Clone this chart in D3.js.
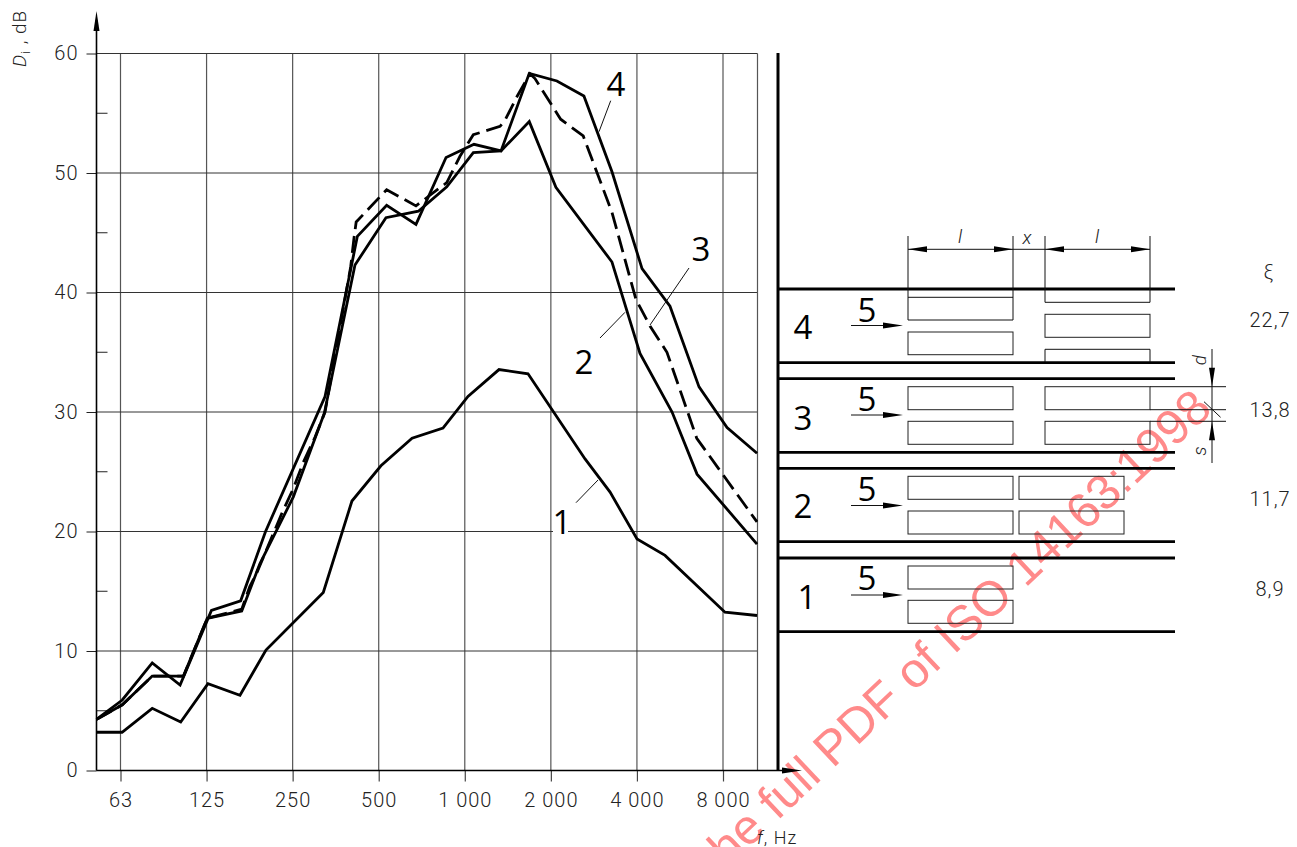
<!DOCTYPE html>
<html>
<head>
<meta charset="utf-8">
<script src="https://cdn.jsdelivr.net/npm/d3@7"></script>
<style>
  html, body { margin: 0; padding: 0; background: #fff; }
  svg { display: block; }
  .num { font-family: Roboto, sans-serif; font-weight: 300; font-size: 20px; fill: #222; letter-spacing: 1px; }
  .big { font-family: "Open Sans", sans-serif; font-weight: 500; font-size: 33px; fill: #000; }
  .ital { font-family: Roboto, sans-serif; font-style: italic; font-weight: 300; font-size: 19px; fill: #222; }
</style>
</head>
<body>
<div class="map"></div>
<script>
// frequency (Hz) and level difference (dB)
var curve1F = [51.5,63.3,80.7,101.5,126.4,163.6,201.7,320,403,509,654,839,1026,1317,1664,2634,3222,4003,5015,8128,10520];
var curve1D = [3.2,3.2,5.2,4.06,7.26,6.3,10.08,14.9,22.55,25.5,27.8,28.66,31.3,33.55,33.2,26.07,23.3,19.37,18,13.25,12.97];

var curve2F = [51.6,63.4,80.7,103.8,125.7,165.9,192,251.4,322.7,413,530,688,865,1071,1339,1681,2083,3272,4100,5308,6490,10520];
var curve2D = [4.28,5.5,7.9,7.9,12.74,13.35,17.3,22.9,29.9,42.3,46.26,46.8,48.85,51.7,51.85,54.3,48.8,42.55,34.9,30,24.8,18.95];

var curve3F = [51.6,63.4,80.7,103.8,125.7,166,177,187,229,251.4,272.5,299.5,324.5,399,410,417,533,675,865,962,1071,1328,1382,1523,1690,1760,2164,2596,3272,3971,4444,5094,6476,10520];
var curve3D = [4.28,5.5,7.9,7.9,12.74,13.5,15.4,16.5,21.5,23.6,25.8,27.9,30,42.16,44.6,45.9,48.6,47.25,49.2,51.4,53.2,53.9,54.4,56.4,58.3,57.9,54.5,53.1,46.7,39.4,37.2,35,27.8,20.8];

var curve4F = [51.5,63.4,80.7,101,130,164.5,201,324.5,421,533,675,860,1077,1339,1681,2100,2610,3272,4168,5220,6596,8265,10520];
var curve4D = [4.28,5.9,9,7.15,13.4,14.2,20,31.3,44.7,47.3,45.7,51.3,52.4,51.85,58.34,57.7,56.45,50.1,42,38.85,32.1,28.7,26.55];

var freqTicks = [62.5,125,250,500,1000,2000,4000,8000];
var freqLabels = ["63","125","250","500","1 000","2 000","4 000","8 000"];
var majorTicks = [0,10,20,30,40,50,60];
var minorTicks = [5,15,25,35,45,55];
var panelNames = ["4","3","2","1"];
var xiValues = ["22,7","13,8","11,7","8,9"];

var w = 1297, h = 847;

var x = d3.scaleLog().domain([62.5,8000]).range([120.5,723]);
var y = d3.scaleLinear().domain([0,60]).range([770.5,53.5]);

var svg = d3.select("div.map").append("svg")
            .attr("width", w)
            .attr("height", h)
            .attr("viewBox", `0 0 ${w} ${h}`);

//watermark goes under the drawing
svg.append("text")
   .attr("transform", "translate(1214,411) rotate(-43.2)")
   .attr("text-anchor", "end")
   .style("font-family", "'Liberation Sans', sans-serif")
   .style("font-size", "49px")
   .style("fill", "#ff8a8a")
   .text("the full PDF of ISO 14163:1998");

function line(x1, y1, x2, y2, sw, col){
    svg.append("line")
       .attr("x1", x1).attr("y1", y1)
       .attr("x2", x2).attr("y2", y2)
       .attr("stroke", col || "#111")
       .attr("stroke-width", sw);
}

function box(x1, y1, x2, y2){
    svg.append("rect")
       .attr("x", x1).attr("y", y1)
       .attr("width", x2-x1).attr("height", y2-y1)
       .attr("fill", "none")
       .attr("stroke", "#222")
       .attr("stroke-width", 1);
}

//arrow head, tip at (tx,ty), dir is the angle it points to
function head(tx, ty, dir, len, wid){
    svg.append("path")
       .attr("transform", `translate(${tx},${ty}) rotate(${dir})`)
       .attr("d", `M0,0L${-len},${-wid/2}L${-len},${wid/2}Z`)
       .attr("fill", "#000");
}

function label(cls, tx, ty, str){
    return svg.append("text")
       .attr("class", cls)
       .attr("x", tx).attr("y", ty)
       .attr("text-anchor", "middle")
       .attr("dominant-baseline", "central")
       .text(str);
}

//grid
var grid = svg.append("g");
grid.selectAll(".gx").data(freqTicks).enter().append("line")
    .attr("x1", d=>x(d)).attr("x2", d=>x(d))
    .attr("y1", y(60)).attr("y2", y(0))
    .attr("stroke", "#555").attr("stroke-width", 1.2);
grid.selectAll(".gy").data(majorTicks).enter().append("line")
    .attr("x1", 96.5).attr("x2", 757.5)
    .attr("y1", d=>y(d)).attr("y2", d=>y(d))
    .attr("stroke", "#333").attr("stroke-width", 1);
line(757.5, y(60), 757.5, y(0), 1.2, "#555");

//axes
var xAxis = d3.axisBottom(x)
    .tickValues(freqTicks)
    .tickSize(11)
    .tickPadding(11)
    .tickFormat((d,i)=>freqLabels[i]);
var xg = svg.append("g").attr("transform", `translate(0,${y(0)})`).call(xAxis);
xg.select(".domain").remove();
xg.selectAll("line").attr("stroke", "#444").attr("stroke-width", 1.2);
xg.selectAll("text").attr("class", "num").attr("font-family", null).attr("font-size", null);

var yAxis = d3.axisLeft(y)
    .tickValues(majorTicks)
    .tickSize(10)
    .tickPadding(8);
var yg = svg.append("g").attr("transform", "translate(96.5,0)").call(yAxis);
yg.select(".domain").remove();
yg.selectAll("line").attr("stroke", "#222").attr("stroke-width", 1);
yg.selectAll("text").attr("class", "num");

svg.append("g").selectAll("line").data(minorTicks).enter().append("line")
    .attr("x1", 96.5).attr("x2", 107.5)
    .attr("y1", d=>y(d)).attr("y2", d=>y(d))
    .attr("stroke", "#222").attr("stroke-width", 1);

line(96.5, y(0), 96.5, 20, 1.6, "#000");
head(96.5, 11, -90, 20, 6);
line(96.5, y(0), 790, y(0), 1.6, "#000");
head(802, y(0), 0, 20, 6);
line(778, 53, 778, 771, 3, "#000");

//curves
var pathGen = d3.line().x(d=>x(d[0])).y(d=>y(d[1]));
var curves = [[curve1F,curve1D,null],[curve2F,curve2D,null],[curve3F,curve3D,"17 7"],[curve4F,curve4D,null]];
svg.append("g").selectAll("path").data(curves).enter().append("path")
    .attr("d", d=>pathGen(d3.zip(d[0],d[1])))
    .attr("fill", "none")
    .attr("stroke", "#000")
    .attr("stroke-width", 2.8)
    .attr("stroke-linejoin", "miter")
    .attr("stroke-dasharray", d=>d[2]);

//curve labels and leaders
svg.append("rect").attr("x", 553).attr("y", 508).attr("width", 15).attr("height", 28).attr("fill", "#fff");
line(576, 502.7, 598, 480, 1);
line(625, 312.3, 600, 338, 1);
line(689, 268, 650, 325, 1);
line(610.7, 100.7, 599, 131.7, 1);
label("big", 562, 521, "1");
label("big", 584, 361, "2");
label("big", 701, 248, "3");
label("big", 616, 83, "4");

//axis titles
var yTitle = svg.append("text")
    .attr("transform", "translate(26,67) rotate(-90)")
    .attr("class", "num")
    .style("font-size", "19px");
yTitle.append("tspan").style("font-style", "italic").text("D");
yTitle.append("tspan").attr("dy", 4).style("font-size", "13px").text("i");
yTitle.append("tspan").attr("dy", -4).text(" , dB");

var xTitle = svg.append("text").attr("x", 757).attr("y", 844).attr("class", "num").style("font-size", "18px");
xTitle.append("tspan").style("font-style", "italic").text("f");
xTitle.append("tspan").text(", Hz");

//bands on the right
[289,362.7,378.7,452.3,468.3,541.7,558,631.7].forEach(function(yy){
    line(778, yy, 1175, yy, 2.8, "#000");
});

//panel 4
line(908, 236, 908, 320, 1);
line(1013, 236, 1013, 320, 1);
line(1045, 236, 1045, 302.3, 1);
line(1150, 236, 1150, 302.3, 1);
line(908, 297.3, 1013, 297.3, 1);
line(908, 320, 1013, 320, 1);
line(1045, 302.3, 1150, 302.3, 1);
box(908, 332, 1013, 354.7);
box(1045, 314.3, 1150, 337.3);
line(1045, 349.3, 1150, 349.3, 1);
line(1045, 349.3, 1045, 362, 1);
line(1150, 349.3, 1150, 362, 1);
//panel 3
box(908, 386.7, 1013, 409.7);
box(908, 421.3, 1013, 444.3);
box(1045, 386.7, 1150, 409.7);
box(1045, 421.3, 1150, 444.3);
//panel 2
box(908, 476.3, 1013, 499.3);
box(908, 511, 1013, 534);
box(1019, 476.3, 1124, 499.3);
box(1019, 511, 1124, 534);
//panel 1
box(908, 566, 1013, 589);
box(908, 600.3, 1013, 623.3);

//dimensions l x l
line(908, 249.3, 1150, 249.3, 1);
head(908, 249.3, 180, 19, 6);
head(1013, 249.3, 0, 19, 6);
head(1045, 249.3, 180, 19, 6);
head(1150, 249.3, 0, 19, 6);
label("ital", 960, 236, "l");
label("ital", 1027, 237, "x");
label("ital", 1097, 236, "l");

//dimensions d s
line(1150, 386.7, 1226, 386.7, 1);
line(1150, 409.7, 1226, 409.7, 1);
line(1150, 421.3, 1226, 421.3, 1);
line(1212, 349, 1212, 463, 1);
line(1204, 401.7, 1220.6, 417.3, 1);
head(1212, 386.7, 90, 19, 6);
head(1212, 421.3, -90, 19, 6);
label("ital", 1199, 360, "d").attr("transform", "rotate(-90,1199,360)");
label("ital", 1199, 451, "s").attr("transform", "rotate(-90,1199,451)");

label("num", 1269, 272, "ξ");
var panelY = [326,417,505,596];
var arrowY = [325.5,415,505.5,595];
var fiveY = [309,398,488,577];
var xiY = [320,410,499,589];
panelNames.forEach(function(n,i){
    label("big", n=="1" ? 807 : 803, panelY[i], n);
    label("big", 867, fiveY[i], "5");
    line(851, arrowY[i], 890, arrowY[i], 1);
    head(903, arrowY[i], 0, 20, 6);
    label("num", 1270, xiY[i], xiValues[i]);
});
</script>
</body>
</html>
